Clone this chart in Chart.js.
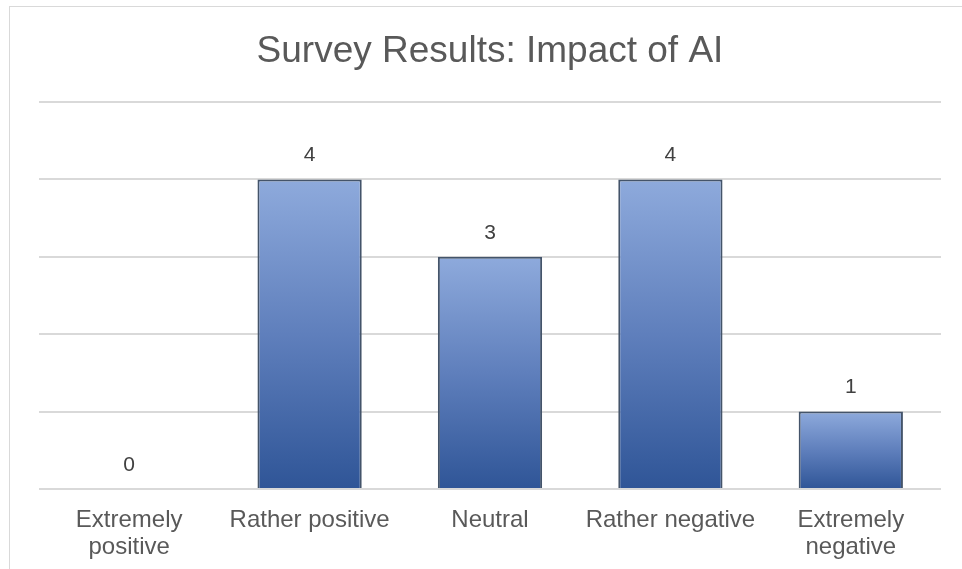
<!DOCTYPE html>
<html>
<head>
<meta charset="utf-8">
<script src="https://cdn.jsdelivr.net/npm/chart.js@4"></script>
<style>
  html, body { margin: 0; padding: 0; background: #fff; overflow: hidden; }
  #frame {
    position: absolute; left: 9px; top: 6px; width: 1000px; height: 600px;
    border-left: 1px solid #d9d9d9; border-top: 1px solid #d9d9d9;
  }
  #wrap { position: absolute; left: 0; top: 0; width: 962px; height: 569px; }
</style>
</head>
<body>
<div id="frame"></div>
<div id="wrap"><canvas id="chart"></canvas></div>
<script>
const categories = [
  ['Extremely', 'positive'],
  'Rather positive',
  'Neutral',
  'Rather negative',
  ['Extremely', 'negative']
];
const responses = [0, 4, 3, 4, 1];

// each bar fades from light blue at its top to dark blue at the axis
const barGradient = (context) => {
  const chart = context.chart;
  if (!chart.chartArea || context.parsed === undefined) return '#8faadc';
  const y = chart.scales.y;
  const top = y.getPixelForValue(context.parsed.y);
  const base = y.getPixelForValue(0);
  if (base - top < 1) return '#8faadc';
  const g = chart.ctx.createLinearGradient(0, top, 0, base);
  g.addColorStop(0, '#8eaadc');
  g.addColorStop(0.5, '#5f7fbc');
  g.addColorStop(1, '#2f5597');
  return g;
};

// value labels above the bars
const valueLabels = {
  id: 'valueLabels',
  afterDatasetsDraw(chart) {
    const ctx = chart.ctx;
    const meta = chart.getDatasetMeta(0);
    ctx.save();
    ctx.fillStyle = '#404040';
    ctx.font = '21px "Liberation Sans", Arial, sans-serif';
    ctx.textAlign = 'center';
    ctx.textBaseline = 'middle';
    meta.data.forEach((bar, i) => {
      ctx.fillText(String(responses[i]), bar.x, bar.y - 24);
    });
    ctx.restore();
  }
};

new Chart(document.getElementById('chart'), {
  type: 'bar',
  data: {
    labels: categories,
    datasets: [{
      data: responses,
      backgroundColor: barGradient,
      borderColor: '#44546a',
      borderWidth: 2,
      borderSkipped: 'bottom',
      barPercentage: 0.578,
      categoryPercentage: 1
    }]
  },
  options: {
    responsive: true,
    maintainAspectRatio: false,
    animation: false,
    layout: { padding: { left: 39, right: 21, top: 0, bottom: 0 } },
    plugins: {
      legend: { display: false },
      tooltip: { enabled: false },
      title: {
        display: true,
        text: 'Survey Results: Impact of AI',
        color: '#595959',
        font: { family: '"Liberation Sans", Arial, sans-serif', size: 37, weight: 'normal', lineHeight: 1.2 },
        padding: { top: 30, bottom: 27.6 }
      }
    },
    scales: {
      x: {
        grid: { display: false, drawTicks: false },
        border: { display: false },
        ticks: {
          color: '#595959',
          padding: 18,
          maxRotation: 0,
          autoSkip: false,
          font: { family: '"Liberation Sans", Arial, sans-serif', size: 24, lineHeight: 1.13 }
        },
        afterFit(scale) { scale.height = 80; }
      },
      y: {
        min: 0,
        max: 5,
        ticks: { display: false, stepSize: 1 },
        grid: { color: '#d9d9d9', lineWidth: 2, drawTicks: false },
        border: { display: false },
        afterFit(scale) { scale.width = 0; }
      }
    }
  },
  plugins: [valueLabels]
});
</script>
</body>
</html>
